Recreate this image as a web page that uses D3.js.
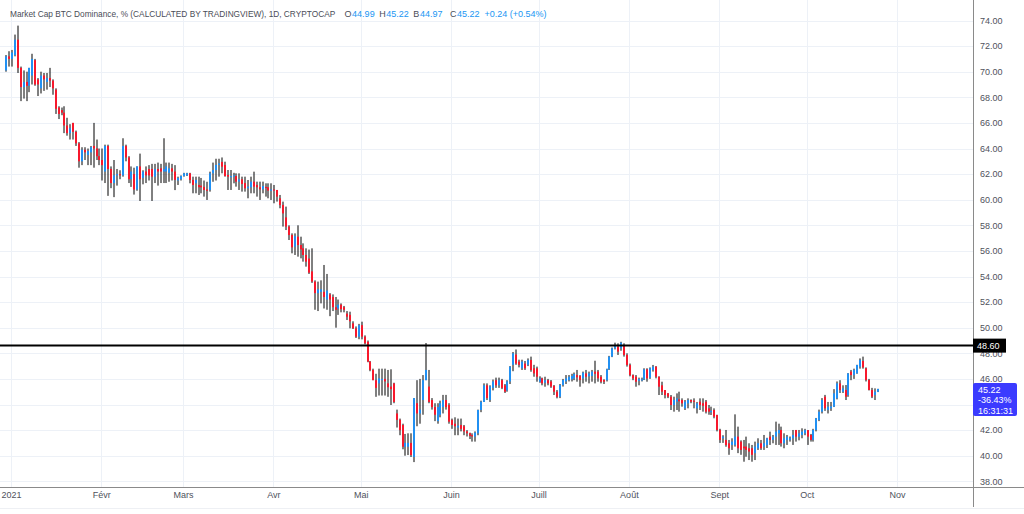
<!DOCTYPE html>
<html><head><meta charset="utf-8">
<script src="https://cdn.jsdelivr.net/npm/d3@7"></script>
<style>html,body{margin:0;padding:0;background:#fff;}svg{display:block;}</style>
</head><body>
<svg id="c" width="1024" height="514"></svg>
<script>
// ---------- DATA (daily candles, first candle 2020-12-30) ----------
const firstDay = [2020, 11, 30];
const opens = [
 70.1,71.2,71.0,71.3,72.5,70.3,68.8,69.2,68.9,69.7,70.9,69.4,68.7,69.7,69.2,69.5,69.3,68.6,67.2,67.0,66.8,65.8,65.2,66.0,65.3,64.4,63.0,63.9,63.5,63.7,64.2,64.0,63.4,
 63.1,62.2,64.2,62.4,61.3,61.9,62.0,61.9,64.2,63.3,61.6,62.0,60.8,62.6,61.7,62.2,62.4,62.4,61.8,62.4,62.45,62.2,62.2,62.1,62.45,62.2,61.5,61.6,
 61.85,61.9,62.06,61.54,61.28,61.15,61.1,61.0,60.8,60.76,62.06,62.32,62.71,62.95,62.71,61.93,61.8,61.85,61.85,61.41,61.59,61.3,60.89,60.97,61.41,61.15,60.97,60.81,61.0,60.97,60.7,
 60.8,60.76,60.11,59.59,58.62,57.9,57.24,56.33,57.11,56.46,56.2,55.68,55.4,54.4,53.6,52.7,52.8,52.8,52.2,52.6,52.4,51.6,51.5,51.8,51.6,51.1,51.0,50.34,49.95,49.3,
 50.2,49.3,48.9,47.35,46.7,45.9,45.65,45.9,46.0,45.65,45.4,45.65,43.3,42.8,42.4,40.7,40.7,41.0,39.9,44.1,43.3,44.35,45.9,45.4,44.35,43.8,42.7,43.2,43.8,44.35,43.96,
 42.8,42.5,42.2,42.4,42.3,41.9,41.75,41.6,41.5,41.75,43.57,44.2,45.5,44.35,45.3,45.9,45.5,45.9,45.5,45.1,45.8,47.1,47.9,47.35,46.83,47.2,47.1,47.48,46.83,46.83,
 45.78,46.04,45.7,45.9,45.8,45.45,45.0,44.61,45.52,45.8,45.91,45.97,46.04,46.3,46.23,46.04,46.43,46.2,46.23,46.57,46.57,46.17,45.91,45.9,46.75,47.74,48.39,48.52,48.39,48.65,47.87,
 47.09,46.3,46.17,45.85,45.91,45.97,46.75,46.1,46.7,46.96,46.17,45.5,45.13,44.87,44.61,43.96,44.22,44.4,44.35,43.7,44.09,44.35,44.3,43.7,44.22,44.1,44.22,43.7,43.4,43.57,43.18,
 42.01,41.36,41.23,40.97,40.84,40.84,41.49,41.1,40.71,40.71,40.58,40.58,40.2,40.58,40.97,40.71,40.84,41.49,41.23,41.49,41.75,42.01,40.97,41.23,41.23,41.36,42.01,41.49,41.62,41.75,
 42.0,41.62,41.23,42.01,42.79,43.44,44.61,43.57,43.7,43.83,44.48,45.65,45.0,45.13,44.74,46.57,46.3,46.43,46.96,47.4,46.83,45.91,45.13,44.74,44.99
];
const highs = [
 71.3,71.6,71.7,72.9,73.6,70.4,70.1,70.0,70.3,71.4,71.0,69.5,70.0,69.9,69.9,70.3,69.4,68.7,67.3,67.2,67.3,66.4,65.9,66.0,65.4,64.5,64.1,64.1,64.0,64.2,66.0,64.7,64.0,
 64.0,64.3,64.3,62.6,63.1,62.4,62.3,64.8,64.3,63.4,62.6,62.5,62.6,63.6,62.3,62.6,62.7,62.8,62.8,62.9,62.8,64.8,62.9,62.9,62.8,62.7,61.8,61.9,
 62.1,62.1,62.1,61.8,61.8,61.8,61.7,61.5,61.4,62.19,62.9,63.2,63.2,63.3,62.97,62.32,62.32,62.1,62.06,62.06,61.8,61.8,61.54,61.8,62.19,61.41,61.41,61.41,61.28,61.28,61.28,
 61.15,60.76,60.37,59.85,59.46,58.0,57.37,57.37,58.0,57.11,56.59,56.2,56.1,56.2,53.7,53.6,53.7,54.9,54.2,52.7,52.6,52.4,52.2,51.9,51.7,51.3,51.25,50.5,50.1,50.3,
 50.47,49.4,49.0,47.4,46.8,46.4,46.8,46.8,46.8,46.7,46.75,45.7,43.6,42.9,42.5,41.7,41.75,41.75,44.5,45.9,46.0,46.3,48.8,46.7,44.5,44.1,44.1,44.3,44.75,44.75,44.1,
 42.9,43.0,42.9,42.9,42.4,42.0,41.8,41.75,41.9,43.6,44.3,45.65,45.65,45.5,45.95,46.1,46.1,46.0,45.6,45.9,47.0,48.1,48.3,47.5,47.5,47.4,47.6,47.74,47.1,46.96,
 46.2,46.1,46.17,46.0,45.91,45.52,45.13,45.6,46.0,46.3,46.3,46.4,46.5,46.7,46.3,46.57,46.7,46.57,46.7,47.42,46.7,46.3,45.97,46.8,47.8,48.45,48.83,48.78,48.9,48.78,48.0,
 47.2,46.35,46.3,46.1,46.1,46.83,46.83,46.9,47.09,47.0,46.2,45.78,45.13,44.9,44.74,44.61,44.87,45.0,44.48,44.35,44.48,44.4,44.48,44.2,44.48,44.48,44.35,43.96,43.83,43.7,43.2,
 42.1,41.6,42.01,41.23,41.36,43.23,42.27,41.2,41.23,41.49,40.97,40.84,41.1,41.36,41.23,41.62,41.4,41.88,41.62,42.66,42.5,42.27,41.75,41.62,41.5,42.01,42.01,42.01,42.14,42.1,
 42.0,41.7,42.1,42.95,43.6,44.5,44.75,44.2,44.2,45.2,45.8,45.9,45.5,45.52,46.45,46.7,46.8,47.1,47.6,47.74,46.9,46.0,45.3,45.26,45.22
];
const lows = [
 70.0,70.4,70.4,71.2,69.9,67.7,67.9,67.7,68.4,69.0,68.9,68.1,68.3,68.5,68.6,68.8,68.2,66.7,66.3,66.6,65.2,65.0,64.7,64.7,64.2,62.5,62.7,63.1,62.7,62.7,62.5,63.1,62.7,
 61.5,61.3,60.3,60.9,60.2,61.1,61.6,61.8,63.0,61.3,61.0,60.4,60.7,59.9,61.2,61.3,61.5,59.9,61.3,61.1,61.3,61.3,61.3,61.4,61.5,60.75,61.15,61.5,
 61.8,61.85,61.28,60.5,60.5,60.37,60.5,60.24,59.98,60.63,61.4,61.5,61.8,62.06,61.8,60.76,60.76,61.28,61.02,60.76,60.63,60.63,60.11,60.5,60.5,60.24,59.98,60.5,60.24,60.11,59.98,
 59.72,59.85,59.33,57.9,57.63,56.85,55.81,55.68,55.55,55.42,55.16,54.77,54.2,53.5,51.4,51.3,51.9,51.5,51.4,50.9,51.3,50.0,51.0,51.2,51.2,50.6,49.95,49.9,49.2,49.1,
 49.09,48.7,47.3,46.6,45.9,44.6,44.7,44.7,44.7,44.6,43.96,44.1,42.2,41.6,40.5,40.0,40.05,39.9,39.5,42.3,42.5,43.2,45.9,44.1,43.6,42.7,42.5,43.0,43.3,43.6,42.5,
 42.1,41.6,41.6,41.9,41.6,41.5,41.3,41.1,41.1,41.6,43.4,44.2,44.35,44.2,45.1,45.3,45.3,45.2,44.9,45.0,45.6,46.6,47.1,46.9,46.7,46.7,47.0,46.56,46.17,45.78,
 45.7,45.5,45.39,45.5,45.3,44.74,44.48,44.5,45.4,45.6,45.8,45.8,45.9,45.78,45.39,45.65,45.78,45.65,45.78,45.65,45.78,45.65,45.6,45.8,46.7,47.7,48.3,47.87,48.2,47.74,46.96,
 46.2,45.9,45.39,45.5,45.8,45.91,45.78,46.0,46.57,46.04,44.74,44.74,44.48,44.5,43.57,43.44,43.57,43.44,43.83,43.57,43.7,44.1,43.7,43.3,43.57,43.44,43.3,43.2,43.18,42.92,41.9,
 41.0,41.0,40.7,40.07,40.45,40.71,40.2,40.07,39.53,39.92,39.66,39.53,39.66,40.45,40.45,40.45,40.6,40.84,40.97,40.84,40.84,40.71,40.58,40.84,41.1,40.84,41.1,41.2,41.36,41.6,
 40.84,41.1,41.1,41.9,42.7,43.3,43.5,43.3,43.5,43.8,44.4,44.9,44.9,44.35,44.6,45.9,46.0,46.4,46.8,46.8,45.8,45.1,44.5,44.35,44.97
];
const closes = [
 71.2,71.0,71.5,72.5,70.3,68.8,69.2,68.9,70.3,71.0,69.0,69.0,69.7,69.4,69.5,69.3,68.7,67.1,66.7,66.8,65.8,65.2,65.6,65.3,64.4,63.0,63.9,63.7,63.8,64.1,64.0,63.4,63.1,
 62.7,64.2,62.4,61.3,61.9,62.0,61.9,64.2,63.3,61.6,62.2,60.8,62.6,61.6,62.2,61.9,61.9,61.8,62.4,62.2,62.2,62.4,62.6,62.45,62.2,61.55,61.7,61.85,
 62.06,62.06,61.54,61.15,61.54,60.97,60.97,60.76,60.7,62.06,62.32,62.71,62.84,62.58,61.85,61.8,61.85,61.9,61.41,61.59,61.23,60.89,61.02,61.41,61.02,60.97,60.81,61.07,60.97,60.71,60.8,
 60.71,60.24,59.59,58.93,57.9,57.24,56.28,57.16,56.46,56.12,55.68,55.16,54.3,53.6,52.7,53.0,53.0,52.4,52.9,52.2,51.6,51.4,51.8,51.45,51.4,50.86,50.5,49.95,49.3,50.2,
 49.3,48.78,47.35,46.7,45.9,45.3,46.04,46.0,45.8,45.35,45.2,44.2,42.8,42.0,40.7,41.0,41.0,40.05,44.5,43.3,43.6,45.9,46.7,44.2,43.8,43.2,43.8,44.1,44.35,43.8,42.66,
 42.4,42.3,42.35,42.1,41.9,41.75,41.55,41.5,41.8,43.57,44.22,45.5,44.5,45.4,45.8,45.5,45.9,45.3,45.0,45.8,46.96,48.0,47.2,47.1,47.35,46.83,47.48,46.7,46.43,46.17,
 46.04,45.65,45.9,45.65,45.4,45.0,44.6,45.52,45.91,46.04,46.17,46.23,46.38,46.12,45.91,46.49,46.17,46.43,46.57,46.4,46.04,45.78,45.78,46.75,47.74,48.39,48.65,48.13,48.83,47.87,47.09,
 46.3,46.04,45.78,46.0,45.97,46.75,46.04,46.83,46.96,46.17,45.39,45.0,44.74,44.61,43.96,44.35,44.48,44.25,44.09,44.22,44.35,44.22,44.22,44.09,43.96,43.9,43.44,43.44,43.5,43.05,42.01,
 41.23,41.49,40.84,40.58,41.1,41.49,40.58,40.45,40.58,40.45,40.32,40.07,40.71,40.97,40.58,40.97,41.36,41.23,41.49,41.88,42.01,40.97,41.36,41.49,41.36,41.62,41.49,41.75,41.88,42.01,
 41.49,41.23,42.01,42.92,43.44,44.35,43.7,43.83,43.85,44.87,45.65,45.13,45.26,44.61,46.43,46.3,46.7,47.09,47.48,46.9,45.91,45.13,44.61,45.0,45.22
];
const yTicks = [38,40,42,44,46,48,50,52,54,56,58,60,62,64,66,68,70,72,74];
const monthTicks = ["2021-01-01","2021-02-01","2021-03-01","2021-04-01","2021-05-01","2021-06-01","2021-07-01","2021-08-01","2021-09-01","2021-10-01","2021-11-01"];
const monthLabels = ["2021","Févr","Mars","Avr","Mai","Juin","Juill","Août","Sept","Oct","Nov"];
const levelValue = 48.60;
const lastValue = 45.22;
const lastLines = ["45.22","-36.43%","16:31:31"];
const titleText = "Market Cap BTC Dominance, % (CALCULATED BY TRADINGVIEW), 1D, CRYPTOCAP";
const legendKeys = ["O","H","B","C"];
const legendValues = ["44.99","45.22","44.97","45.22"];
const legendChange = "+0.24 (+0.54%)";

// ---------- DRAW ----------
const svg = d3.select("#c");
const FONT = "'Liberation Sans', Arial, sans-serif";
const axisX = 973, axisY = 487;
const x = d3.scaleUtc()
  .domain([new Date(Date.UTC(2021,0,1)), new Date(Date.UTC(2021,10,1))])
  .range([11, 897]);
const y = d3.scaleLinear().domain([38, 74]).range([481.3, 20.5]);
const monthDates = monthTicks.map(s => new Date(s + "T00:00:00Z"));
const candles = opens.map((o, i) => ({
  date: new Date(Date.UTC(firstDay[0], firstDay[1], firstDay[2] + i)),
  o, h: highs[i], l: lows[i], c: closes[i]
}));
const py = y(lastValue);
const ly = y(levelValue);

svg.append("defs").append("clipPath").attr("id","clip")
  .append("rect").attr("x",0).attr("y",0).attr("width",axisX).attr("height",axisY);

// grid
const grid = svg.append("g");
grid.selectAll("line.h").data(yTicks).join("line").attr("class","h")
  .attr("x1",0).attr("x2",axisX)
  .attr("y1",d=>Math.round(y(d))+0.5).attr("y2",d=>Math.round(y(d))+0.5)
  .attr("stroke","#edf1f7").attr("stroke-width",1);
grid.selectAll("line.v").data(monthDates.filter(d=>x(d)<axisX)).join("line").attr("class","v")
  .attr("y1",0).attr("y2",axisY)
  .attr("x1",d=>Math.round(x(d))+0.5).attr("x2",d=>Math.round(x(d))+0.5)
  .attr("stroke","#edf1f7").attr("stroke-width",1);

// candles
const cg = svg.append("g").attr("clip-path","url(#clip)");
cg.selectAll("line.w").data(candles).join("line").attr("class","w")
  .attr("x1",d=>Math.round(x(d.date))+1).attr("x2",d=>Math.round(x(d.date))+1)
  .attr("y1",d=>y(d.h)).attr("y2",d=>y(d.l))
  .attr("stroke","#000").attr("stroke-width",1);
cg.selectAll("rect.b").data(candles).join("rect").attr("class","b")
  .attr("x",d=>Math.round(x(d.date)))
  .attr("width",2)
  .attr("y",d=>y(Math.max(d.o,d.c)))
  .attr("height",d=>Math.max(1.2, Math.abs(y(d.o)-y(d.c))))
  .attr("fill",d=>d.c>=d.o ? "#2190f2" : "#f7182c");

// horizontal level line
svg.append("line").attr("x1",0).attr("x2",axisX)
  .attr("y1",ly).attr("y2",ly)
  .attr("stroke","#000").attr("stroke-width",2);

// axes lines
svg.append("line").attr("x1",axisX+0.5).attr("x2",axisX+0.5).attr("y1",0).attr("y2",507)
  .attr("stroke","#8a8a8a").attr("stroke-width",1);
svg.append("line").attr("x1",0).attr("x2",1024).attr("y1",axisY+0.5).attr("y2",axisY+0.5)
  .attr("stroke","#8a8a8a").attr("stroke-width",1);
svg.append("line").attr("x1",0).attr("x2",1024).attr("y1",508.5).attr("y2",508.5)
  .attr("stroke","#eef0f4").attr("stroke-width",1);

// y axis labels (the one hidden behind the last-price box is not drawn)
const yLabelTicks = yTicks.filter(v => y(v) < py - 8 || y(v) > py + 30);
const yAxis = d3.axisRight(y).tickValues(yLabelTicks).tickFormat(d3.format(".2f")).tickSize(0).tickPadding(7);
const yg = svg.append("g").attr("transform",`translate(${axisX},0)`).call(yAxis);
yg.select(".domain").remove();
yg.attr("font-family",FONT).attr("font-size",9);
yg.selectAll("text").attr("fill","#4f525c");

// x axis labels
const xAxis = d3.axisBottom(x).tickValues(monthDates).tickFormat((d,i)=>monthLabels[i]).tickSize(0).tickPadding(5);
const xg = svg.append("g").attr("transform",`translate(0,${axisY})`).call(xAxis);
xg.select(".domain").remove();
xg.attr("font-family",FONT).attr("font-size",9);
xg.selectAll("text").attr("fill","#4f525c");

// level label
svg.append("rect").attr("x",axisX).attr("y",ly-7).attr("width",33).attr("height",14).attr("fill","#000");
svg.append("text").attr("x",axisX+4).attr("y",ly).attr("dy","0.35em")
  .attr("font-family",FONT).attr("font-size",9).attr("fill","#fff").text(d3.format(".2f")(levelValue));

// last price label
svg.append("rect").attr("x",axisX).attr("y",py-6).attr("width",44).attr("height",33).attr("rx",2)
  .attr("fill","#3b3bff");
svg.append("g").selectAll("text").data(lastLines).join("text")
  .attr("x",axisX+5).attr("y",(d,i)=>py+0.5+i*10.5).attr("dy","0.35em")
  .attr("font-family",FONT).attr("font-size",9).attr("fill","#fff").text(d=>d);

// title (font size fitted so its natural width ends before the legend)
const title = svg.append("text").attr("x",10).attr("y",17)
  .attr("font-family",FONT).attr("font-size",10).attr("fill","#4a4d57").text(titleText);
const tw = title.node().getComputedTextLength();
title.attr("font-size", Math.min(10, 10 * 326 / tw));
const lg = svg.append("g").attr("font-family",FONT).attr("font-size",9);
let cx = 344.5;
const gaps = [4.5, 4.5, 7.5];
legendKeys.forEach((k,i)=>{
  const kt = lg.append("text").attr("x",cx).attr("y",17).attr("fill","#4a4d57").text(k);
  cx += kt.node().getComputedTextLength() + 0.6;
  const vt = lg.append("text").attr("x",cx).attr("y",17).attr("fill","#2196f3").text(legendValues[i]);
  cx += vt.node().getComputedTextLength() + (i < 3 ? gaps[i] : 5);
});
lg.append("text").attr("x",Math.max(cx,479)).attr("y",17).attr("fill","#2196f3").text(legendChange);
</script>
</body></html>
